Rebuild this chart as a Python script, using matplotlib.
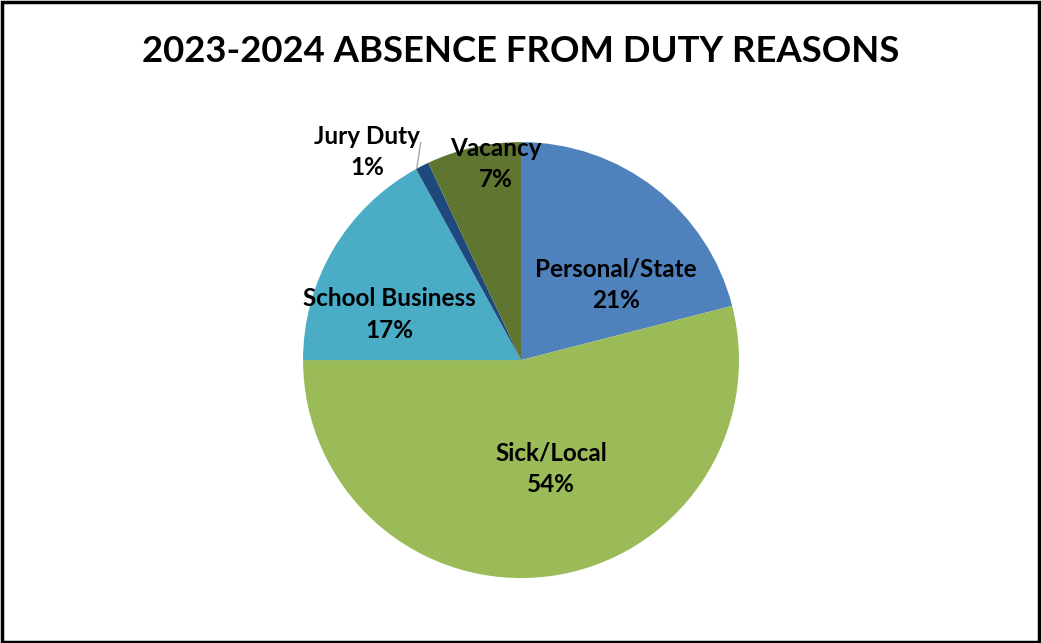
import matplotlib
matplotlib.use("Agg")
import matplotlib.pyplot as plt
from matplotlib.patches import Rectangle

plt.rcParams['font.family'] = ['Lato', 'DejaVu Sans']

# data
reasons = ['Personal/State', 'Sick/Local', 'School Business', 'Jury Duty', 'Vacancy']
shares = [21, 54, 17, 1, 7]
colors = ['#4F81BD', '#9BBB59', '#4BACC6', '#1F497D', '#5F7530']

# label placement (data coords, pie radius = 1)
label_pos = [(0.436, 0.345), (0.138, -0.5), (-0.606, 0.21), (-0.706, 0.955), (-0.115, 0.9)]

fig = plt.figure(figsize=(10.41, 6.43), dpi=100)
fig.patch.set_facecolor('white')

# outer frame
fig.add_artist(Rectangle((0.0015, 0.002), 0.997, 0.995, transform=fig.transFigure,
                         fill=False, edgecolor='black', linewidth=2.5))

fig.text(0.5, 0.92, '2023-2024 ABSENCE FROM DUTY REASONS', ha='center', va='center',
         fontsize=26.3, fontweight='bold')

ax = fig.add_axes([0.291, 0.101, 0.419, 0.678])
wedges, _ = ax.pie(shares, colors=colors, startangle=90, counterclock=False, radius=1,
                   wedgeprops=dict(linewidth=0))
ax.set_xlim(-1, 1)
ax.set_ylim(-1, 1)
ax.set_aspect('equal')
ax.axis('off')

for name, val, (x, y) in zip(reasons, shares, label_pos):
    ax.text(x, y, f'{name}\n{val}%', ha='center', va='center', fontsize=17.5,
            fontweight='bold', linespacing=1.45)

# leader line for the tiny slice
ax.plot([-0.455, -0.478], [1.035, 0.88], color='#A6A6A6', linewidth=1)

fig.savefig('out.png', dpi=100)
